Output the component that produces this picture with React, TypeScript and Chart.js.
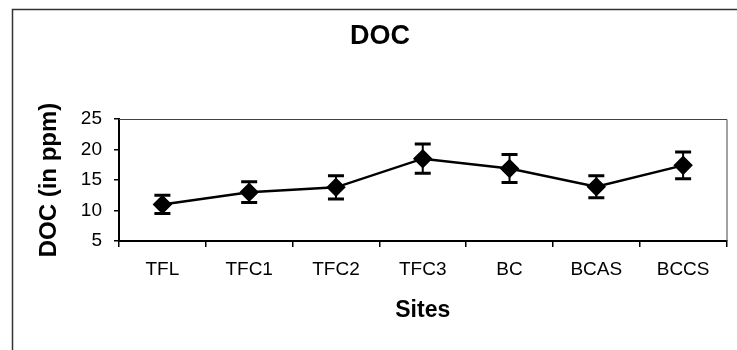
import React, { useEffect, useRef } from "react";
import { Chart, registerables } from "chart.js";

Chart.register(...registerables);

const sites = ["TFL", "TFC1", "TFC2", "TFC3", "BC", "BCAS", "BCCS"];
const docMean = [11, 13, 13.8, 18.5, 16.9, 13.9, 17.4];
const docError = [1.5, 1.7, 1.9, 2.4, 2.3, 1.8, 2.2];
const yTicks = [5, 10, 15, 20, 25];

const FONT = "Arial, 'Liberation Sans', Helvetica, sans-serif";

// Outer frame of the figure plus the thin top/right edges of the plot area
const framePlugin = {
  id: "frame",
  beforeDraw(chart: any) {
    const { ctx } = chart;
    ctx.save();
    ctx.strokeStyle = "#333";
    ctx.lineWidth = 1.5;
    ctx.beginPath();
    ctx.moveTo(12.5, 350);
    ctx.lineTo(12.5, 9.5);
    ctx.lineTo(737, 9.5);
    ctx.stroke();
    ctx.restore();
  },
  afterDraw(chart: any) {
    const { ctx, chartArea } = chart;
    ctx.save();
    ctx.strokeStyle = "#444";
    ctx.lineWidth = 1;
    ctx.beginPath();
    ctx.moveTo(chartArea.left, chartArea.top + 0.5);
    ctx.lineTo(chartArea.right + 0.5, chartArea.top + 0.5);
    ctx.lineTo(chartArea.right + 0.5, chartArea.bottom);
    ctx.stroke();
    ctx.restore();
  },
};

// Vertical error bars with flat caps, one per site
const errorBarPlugin = {
  id: "errorBars",
  beforeDatasetsDraw(chart: any) {
    const { ctx, scales } = chart;
    const x = scales.x;
    const y = scales.y;
    ctx.save();
    ctx.strokeStyle = "#000";
    docMean.forEach((m, i) => {
      const px = x.getPixelForValue(i);
      const top = y.getPixelForValue(m + docError[i]);
      const bot = y.getPixelForValue(m - docError[i]);
      ctx.lineWidth = 2;
      ctx.beginPath();
      ctx.moveTo(px, top);
      ctx.lineTo(px, bot);
      ctx.stroke();
      ctx.lineWidth = 3;
      ctx.beginPath();
      ctx.moveTo(px - 8, top);
      ctx.lineTo(px + 8, top);
      ctx.moveTo(px - 8, bot);
      ctx.lineTo(px + 8, bot);
      ctx.stroke();
    });
    ctx.restore();
  },
};

export default function App() {
  const ref = useRef<HTMLCanvasElement | null>(null);

  useEffect(() => {
    if (!ref.current) return;
    const chart = new Chart(ref.current, {
      type: "line",
      data: {
        labels: sites,
        datasets: [
          {
            label: "DOC",
            data: docMean,
            borderColor: "#000",
            borderWidth: 2.5,
            backgroundColor: "#000",
            pointStyle: "rectRot",
            pointRadius: 8,
            pointBackgroundColor: "#000",
            pointBorderColor: "#000",
            tension: 0,
          },
        ],
      },
      options: {
        responsive: false,
        animation: false,
        layout: { padding: { left: 30, right: 7, top: 0, bottom: 0 } },
        plugins: {
          legend: { display: false },
          tooltip: { enabled: false },
          title: {
            display: true,
            text: "DOC",
            color: "#000",
            font: { family: FONT, size: 27, weight: "bold" },
            padding: { top: 20.8, bottom: 65.8 },
          },
        },
        scales: {
          x: {
            type: "category",
            offset: true,
            afterFit(scale: any) {
              scale.height = 109;
            },
            grid: {
              offset: true,
              drawOnChartArea: false,
              drawTicks: true,
              tickLength: 6,
              color: "#000",
              lineWidth: 1.5,
            },
            border: { display: true, color: "#000", width: 2 },
            ticks: {
              color: "#000",
              padding: 11.5,
              maxRotation: 0,
              font: { family: FONT, size: 19 },
            },
            title: {
              display: true,
              text: "Sites",
              color: "#000",
              font: { family: FONT, size: 23, weight: "bold" },
              padding: { top: 0, bottom: 26 },
            },
          },
          y: {
            min: 5,
            max: 25,
            afterFit(scale: any) {
              scale.width = 89;
            },
            afterBuildTicks(scale: any) {
              scale.ticks = yTicks.map((v) => ({ value: v }));
            },
            grid: {
              drawOnChartArea: false,
              drawTicks: true,
              tickLength: 5,
              color: "#000",
              lineWidth: 1.5,
            },
            border: { display: true, color: "#000", width: 2 },
            ticks: {
              color: "#000",
              padding: 12,
              font: { family: FONT, size: 19 },
            },
            title: {
              display: true,
              text: "DOC (in ppm)",
              color: "#000",
              font: { family: FONT, size: 24, weight: "bold" },
              padding: { top: 4.6, bottom: 0 },
            },
          },
        },
      },
      plugins: [framePlugin, errorBarPlugin],
    });
    return () => chart.destroy();
  }, []);

  return (
    <div style={{ position: "fixed", left: 0, top: 0, width: 737, height: 350, background: "#fff" }}>
      <canvas ref={ref} width={737} height={350} style={{ width: 737, height: 350, display: "block" }} />
    </div>
  );
}
